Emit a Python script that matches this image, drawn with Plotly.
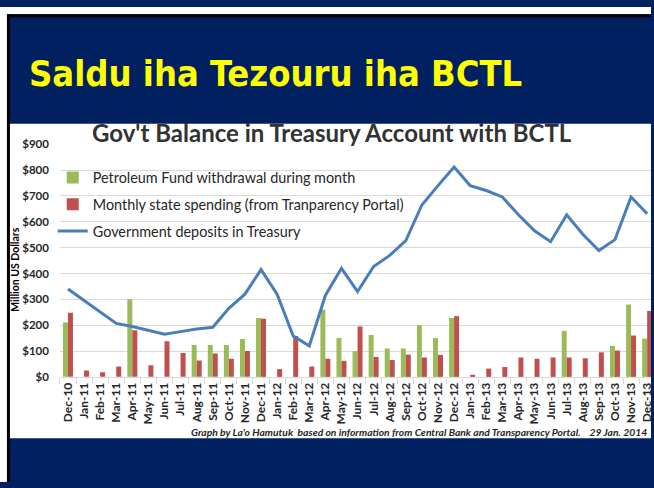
import plotly.graph_objects as go

W, H = 654, 488

months = ["Dec-10", "Jan-11", "Feb-11", "Mar-11", "Apr-11", "May-11", "Jun-11", "Jul-11",
          "Aug-11", "Sep-11", "Oct-11", "Nov-11", "Dec-11", "Jan-12", "Feb-12", "Mar-12",
          "Apr-12", "May-12", "Jun-12", "Jul-12", "Aug-12", "Sep-12", "Oct-12", "Nov-12",
          "Dec-12", "Jan-13", "Feb-13", "Mar-13", "Apr-13", "May-13", "Jun-13", "Jul-13",
          "Aug-13", "Sep-13", "Oct-13", "Nov-13", "Dec-13"]

pf_withdrawal = [210, None, None, None, 300, None, None, None,
                 123, 123, 123, 147, 228, None, None, None,
                 260, 150, 100, 162, 110, 110, 200, 150,
                 228, None, None, None, None, None, None, 178,
                 None, None, 120, 280, 148]

state_spending = [248, 25, 18, 40, 180, 45, 138, 92,
                  63, 90, 70, 100, 225, 30, 158, 40,
                  70, 62, 195, 77, 65, 86, 75, 85,
                  235, 8, 32, 38, 75, 70, 75, 75,
                  72, 95, 102, 160, 255]

gov_deposits = [340, 295, 252, 207, 195, 180, 165, 175,
                185, 192, 265, 320, 415, 320, 158, 120,
                315, 420, 330, 427, 470, 527, 665, 740,
                812, 740, 721, 696, 627, 565, 523, 627,
                552, 489, 531, 696, 631]

y_ticks = [0, 100, 200, 300, 400, 500, 600, 700, 800, 900]
y_tick_labels = ["$0", "$100", "$200", "$300", "$400", "$500", "$600", "$700", "$800", "$900"]

NAVY = "#012060"
GREEN = "#9BBB59"
RED = "#C0504D"
BLUE = "#4A7EBB"
GRID = "#D9D9D9"


def px(x):
    return x / W


def py(y):
    return 1 - y / H


fig = go.Figure()
fig.add_trace(go.Bar(x=months, y=pf_withdrawal, name="Petroleum Fund withdrawal during month",
                     marker=dict(color=GREEN, line=dict(width=0)), legendgroup="a"))
fig.add_trace(go.Bar(x=months, y=state_spending, name="Monthly state spending (from Tranparency Portal)",
                     marker=dict(color=RED, line=dict(width=0)), legendgroup="b"))
fig.add_trace(go.Scatter(x=months, y=gov_deposits, name="Government deposits in Treasury",
                         mode="lines", line=dict(color=BLUE, width=3), legendgroup="c"))

shapes = [
    dict(type="rect", xref="paper", yref="paper", x0=0, x1=1, y0=py(7.5), y1=1,
         fillcolor="white", line=dict(width=0), layer="below"),
    dict(type="rect", xref="paper", yref="paper", x0=0, x1=px(7), y0=0, y1=1,
         fillcolor="white", line=dict(width=0), layer="below"),
    dict(type="rect", xref="paper", yref="paper", x0=px(7), x1=1, y0=py(10.5), y1=py(7.5),
         fillcolor="black", line=dict(width=0), layer="below"),
    dict(type="rect", xref="paper", yref="paper", x0=px(7), x1=px(10), y0=0, y1=py(7.5),
         fillcolor="black", line=dict(width=0), layer="below"),
    dict(type="rect", xref="paper", yref="paper", x0=px(10), x1=1, y0=py(443), y1=py(120),
         fillcolor="white", line=dict(width=0), layer="below"),
]

annotations = [
    dict(text="<b>Saldu iha Tezouru iha BCTL</b>", x=px(27), y=py(68), xref="paper", yref="paper",
         xanchor="left", yanchor="middle", showarrow=False,
         font=dict(family="DejaVu Sans Condensed", size=36, color="#FFFF00")),
    dict(text="<b>Gov't Balance in Treasury Account with BCTL</b>", x=px(334), y=py(129),
         xref="paper", yref="paper", xanchor="center", yanchor="middle", showarrow=False,
         font=dict(family="Lato", size=24, color="#333333")),
    dict(text="<b>Million US Dollars</b>", x=px(15), y=py(270), xref="paper", yref="paper",
         xanchor="center", yanchor="middle", showarrow=False, textangle=-90,
         font=dict(family="Lato", size=10.5, color="black")),
    dict(text="<b><i>Graph by La'o Hamutuk  based on information from Central Bank and Transparency Portal.    29 Jan. 2014</i></b>",
         x=px(652), y=py(437), xref="paper", yref="paper", xanchor="right", yanchor="middle",
         showarrow=False, font=dict(family="Lato", size=10.3, color="#262626")),
]

fig.update_layout(
    width=W, height=H,
    margin=dict(l=0, r=0, t=0, b=0),
    paper_bgcolor=NAVY,
    plot_bgcolor="rgba(0,0,0,0)",
    barmode="group", bargap=0.38, bargroupgap=0,
    shapes=shapes, annotations=annotations,
    showlegend=True,
    legend=dict(x=px(53), y=py(159), xanchor="left", yanchor="top",
                bgcolor="rgba(0,0,0,0)", traceorder="grouped", tracegroupgap=5,
                font=dict(family="Lato", size=14.4, color="#262626"), itemwidth=30),
    xaxis=dict(domain=[px(60.2), 1], range=[-0.5, 36.24], type="category",
               tickangle=-90, tickson="boundaries", ticks="outside", ticklen=6,
               tickcolor=GRID, showline=True, linecolor=GRID, linewidth=1,
               showgrid=False,
               tickfont=dict(family="Lato", size=12, color="#262626"),
               categoryorder="array", categoryarray=months,
               tickvals=months, ticktext=["<b>%s</b>" % m for m in months]),
    yaxis=dict(domain=[py(380), py(141)], range=[0, 900], tickvals=y_ticks,
               ticktext=["<b>%s</b>" % t for t in y_tick_labels],
               showgrid=True, gridcolor=GRID, gridwidth=1, zeroline=False, showline=False,
               ticks="", ticklabelstandoff=10,
               tickfont=dict(family="Lato", size=11.5, color="#262626")),
)

fig.write_html("out.html", config={"displayModeBar": False},
               post_script="document.body.style.margin='0';document.documentElement.style.overflow='hidden';document.body.style.overflow='hidden';")
